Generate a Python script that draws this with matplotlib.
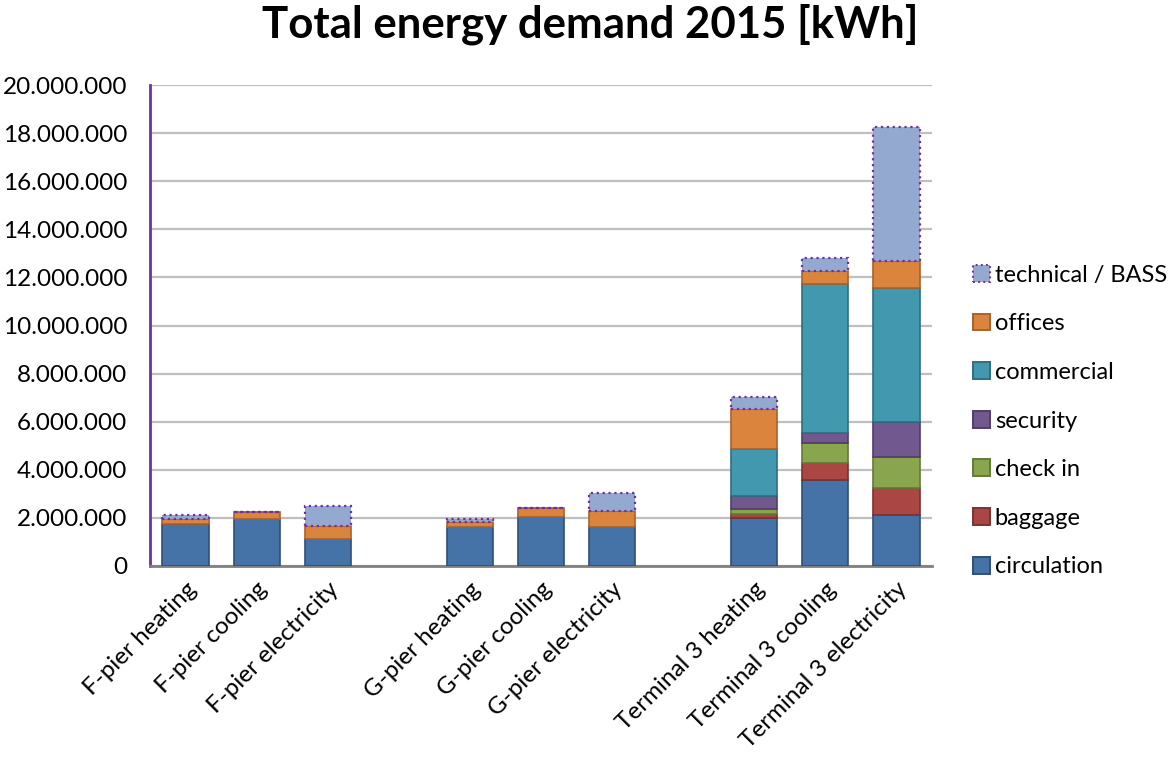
import matplotlib
matplotlib.use("Agg")
import matplotlib.pyplot as plt
from matplotlib.patches import Patch
from matplotlib.ticker import FuncFormatter
import numpy as np

plt.rcParams['font.family'] = ['Lato', 'DejaVu Sans']

# Category slots ('' marks the spacer between building groups)
categories = ["F-pier heating", "F-pier cooling", "F-pier electricity", "",
              "G-pier heating", "G-pier cooling", "G-pier electricity", "",
              "Terminal 3 heating", "Terminal 3 cooling", "Terminal 3 electricity"]

# Energy demand per end use, in kWh (None for spacer slots)
circulation = [1750000, 1940000, 1110000, None, 1630000, 2050000, 1630000, None, 2010000, 3580000, 2120000]
baggage     = [0, 0, 0, None, 0, 0, 0, None, 150000, 720000, 1110000]
check_in    = [0, 0, 0, None, 0, 0, 0, None, 200000, 800000, 1310000]
security    = [0, 0, 0, None, 0, 0, 0, None, 550000, 420000, 1430000]
commercial  = [0, 0, 0, None, 0, 0, 0, None, 1940000, 6190000, 5600000]
offices     = [200000, 320000, 570000, None, 210000, 350000, 660000, None, 1670000, 560000, 1110000]
technical   = [170000, 0, 810000, None, 100000, 0, 760000, None, 520000, 550000, 5590000]

series_names = ["circulation", "baggage", "check in", "security",
                "commercial", "offices", "technical / BASS"]
series_values = [circulation, baggage, check_in, security, commercial, offices, technical]
face_colors = ["#4572A7", "#AA4643", "#89A54E", "#71588F", "#4198AF", "#DB843D", "#93A9CF"]
edge_colors = ["#2E5079", "#7D3230", "#637A37", "#503E67", "#2E6E80", "#A9622A", "#7030A0"]

y_ticks = list(range(0, 20000001, 2000000))

fig = plt.figure(figsize=(11.69, 7.65), dpi=100)
ax = fig.add_axes([150 / 1169, 1 - 566 / 765, 782 / 1169, 481 / 765])

x = np.arange(len(categories))
valid = [i for i, c in enumerate(categories) if c]
bottom = np.zeros(len(valid))
for name, vals, fc, ec in zip(series_names, series_values, face_colors, edge_colors):
    v = np.array([vals[i] for i in valid], dtype=float)
    ls = ":" if name.startswith("technical") else "-"
    lw = 1.6 if name.startswith("technical") else 1.2
    ax.bar(x[valid], v, bottom=bottom, width=0.65, color=fc, edgecolor=ec,
           linewidth=lw, linestyle=ls, zorder=3)
    bottom += v

ax.set_xlim(-0.5, len(categories) - 0.5)
ax.set_ylim(0, 20000000)
ax.set_yticks(y_ticks)
ax.yaxis.set_major_formatter(FuncFormatter(lambda v, p: f"{int(v):,}".replace(",", ".")))
ax.set_xticks(x[valid])
ax.set_xticklabels([categories[i] for i in valid], rotation=45, ha="right",
                   rotation_mode="anchor", fontsize=17.5)
ax.tick_params(axis="x", length=0, pad=9)
ax.tick_params(axis="y", length=0, pad=16.5, labelsize=17.5)

ax.grid(axis="y", color="#BFBFBF", linewidth=1.6, zorder=0)
ax.set_axisbelow(True)
for s in ("top", "right"):
    ax.spines[s].set_visible(False)
ax.spines["left"].set_color("#7030A0")
ax.spines["left"].set_linewidth(2)
ax.spines["bottom"].set_color("#808080")
ax.spines["bottom"].set_linewidth(2)

fig.text(590 / 1169, 1 - 24 / 765, "Total energy demand 2015 [kWh]",
         ha="center", va="center", fontsize=31.5, fontweight="bold")

handles = []
for name, fc, ec in zip(series_names, face_colors, edge_colors):
    ls = ":" if name.startswith("technical") else "-"
    handles.append(Patch(facecolor=fc, edgecolor=ec, linestyle=ls, linewidth=1.4, label=name))
handles = handles[::-1]
fig.legend(handles=handles, loc="center left", bbox_to_anchor=(973 / 1169, 1 - 421 / 765),
           frameon=False, fontsize=17, handlelength=0.72, handleheight=0.72,
           handletextpad=0.2, labelspacing=1.17, borderaxespad=0, borderpad=0)

fig.savefig("out.png", dpi=100)
